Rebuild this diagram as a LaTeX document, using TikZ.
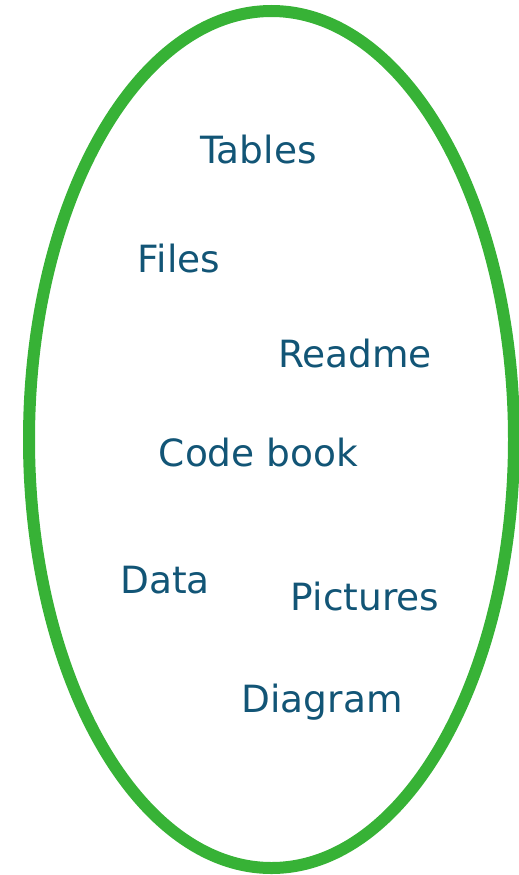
\documentclass[tikz,border=0pt]{standalone}
\usepackage{fontspec}
\setmainfont{DejaVu Sans}
\definecolor{ringgreen}{RGB}{55,178,54}
\definecolor{wordblue}{RGB}{18,85,118}
\begin{document}
\begin{tikzpicture}[x=1pt,y=-1pt,
  word/.style={anchor=base,inner sep=0pt,text=wordblue,font=\fontsize{37.5}{42}\selectfont}]
\useasboundingbox (0,0) rectangle (519,875);
\draw[ringgreen,line width=12pt] (271.5,439.5) ellipse [x radius=242.5, y radius=428.5];
\node[word] (tables) at (258.5,163) {Tables};
\node[word] (files) at (179,272) {Files};
\node[word] (readme) at (355,367) {Readme};
\node[word] (codebook) at (258.5,466) {Code book};
\node[word] (data) at (165,593) {Data};
\node[word] (pictures) at (365,610) {Pictures};
\node[word] (diagram) at (322,712) {Diagram};
\end{tikzpicture}
\end{document}
